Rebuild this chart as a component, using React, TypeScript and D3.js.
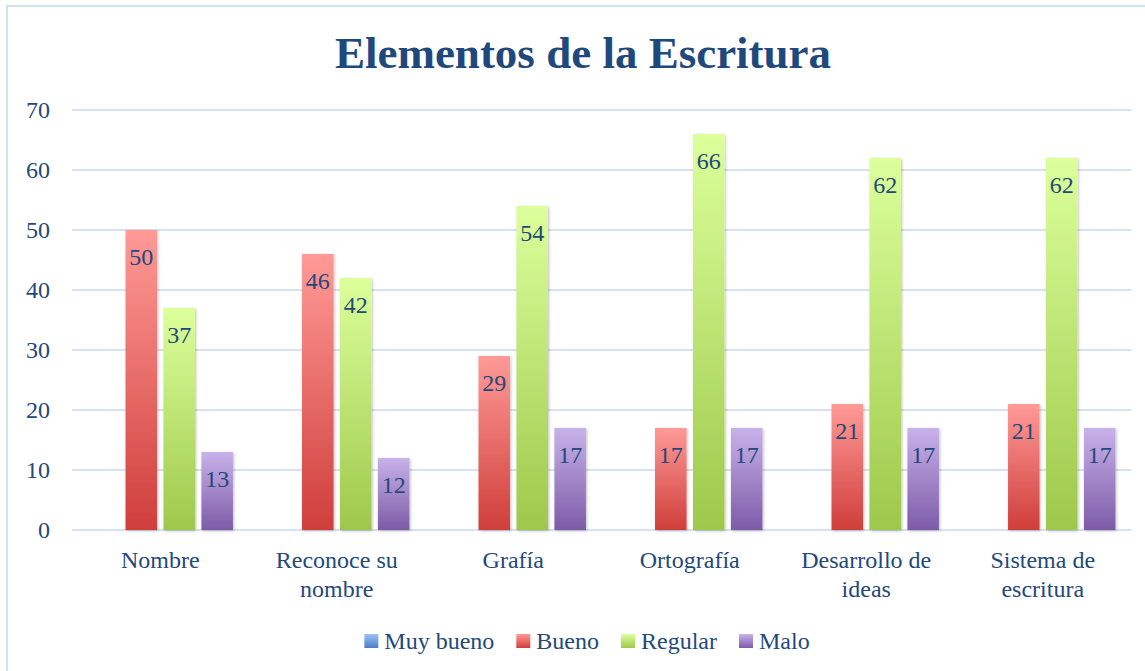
import * as d3 from "d3"
import { useEffect, useRef } from "react"

const categories = [
  "Nombre",
  "Reconoce su nombre",
  "Grafía",
  "Ortografía",
  "Desarrollo de ideas",
  "Sistema de escritura",
]
const seriesNames = ["Muy bueno", "Bueno", "Regular", "Malo"]
const muyBueno = [0, 0, 0, 0, 0, 0]
const bueno = [50, 46, 29, 17, 21, 21]
const regular = [37, 42, 54, 66, 62, 62]
const malo = [13, 12, 17, 17, 17, 17]
const yTicks = [0, 10, 20, 30, 40, 50, 60, 70]

// top / bottom colours of each series gradient
const gradients = [
  ["#9dc3f6", "#4a7ec6"],
  ["#ff9a97", "#cf3e3b"],
  ["#dcff9b", "#9ec84b"],
  ["#c8b2ea", "#7d5ba8"],
]

const TEXT = "#23497b"
const GRID = "#d6e2f2"
const FONT = "'Liberation Serif', 'DejaVu Serif', serif"

function wrapWords(s: string, max = 13) {
  const lines: string[] = []
  let cur = ""
  for (const w of s.split(" ")) {
    const next = cur ? cur + " " + w : w
    if (next.length > max && cur) {
      lines.push(cur)
      cur = w
    } else cur = next
  }
  if (cur) lines.push(cur)
  return lines
}

export default function App() {
  const ref = useRef<SVGSVGElement>(null)

  useEffect(() => {
    if (!ref.current) return
    const svg = d3.select(ref.current)
    svg.selectAll("*").remove()

    const W = 1145
    const H = 671
    const left = 72
    const right = 1131
    const top = 110
    const bottom = 530
    const values = [muyBueno, bueno, regular, malo]

    const defs = svg.append("defs")
    gradients.forEach(([a, b], i) => {
      const g = defs
        .append("linearGradient")
        .attr("id", `grad${i}`)
        .attr("x1", 0)
        .attr("y1", 0)
        .attr("x2", 0)
        .attr("y2", 1)
      g.append("stop").attr("offset", "0%").attr("stop-color", a)
      g.append("stop").attr("offset", "100%").attr("stop-color", b)
    })
    const f = defs
      .append("filter")
      .attr("id", "shadow")
      .attr("x", "-30%")
      .attr("y", "-10%")
      .attr("width", "160%")
      .attr("height", "120%")
    f.append("feDropShadow")
      .attr("dx", 1)
      .attr("dy", 1)
      .attr("stdDeviation", 1.6)
      .attr("flood-color", "#000")
      .attr("flood-opacity", 0.25)

    svg.append("rect").attr("width", W).attr("height", H).attr("fill", "#fff")
    // chart border (runs off right/bottom)
    svg
      .append("rect")
      .attr("x", 7)
      .attr("y", 6)
      .attr("width", W + 20)
      .attr("height", H + 20)
      .attr("fill", "none")
      .attr("stroke", "#d3e0f1")
      .attr("stroke-width", 2)

    svg
      .append("text")
      .attr("x", 583)
      .attr("y", 68)
      .attr("text-anchor", "middle")
      .attr("font-family", FONT)
      .attr("font-weight", "bold")
      .attr("font-size", 45)
      .attr("fill", "#1f497d")
      .text("Elementos de la Escritura")

    const x0 = d3.scaleBand<string>().domain(categories).range([left, right])
    const x1 = d3
      .scaleBand<string>()
      .domain(seriesNames)
      .range([0, x0.bandwidth()])
      .paddingInner(0.17)
      .paddingOuter(0.41)
    const y = d3.scaleLinear().domain([0, 70]).range([bottom, top])

    svg
      .append("g")
      .selectAll("line")
      .data(yTicks)
      .join("line")
      .attr("x1", left)
      .attr("x2", right)
      .attr("y1", (d) => y(d))
      .attr("y2", (d) => y(d))
      .attr("stroke", GRID)
      .attr("stroke-width", 2)

    svg
      .append("g")
      .selectAll("text")
      .data(yTicks)
      .join("text")
      .attr("x", 50)
      .attr("y", (d) => y(d))
      .attr("dy", "0.35em")
      .attr("text-anchor", "end")
      .attr("font-family", FONT)
      .attr("font-size", 24)
      .attr("fill", TEXT)
      .text((d) => d)

    seriesNames.forEach((s, si) => {
      const g = svg.append("g")
      const data = categories.map((c, ci) => ({ c, v: values[si][ci] }))
      g.selectAll("rect")
        .data(data)
        .join("rect")
        .attr("x", (d) => x0(d.c)! + x1(s)!)
        .attr("y", (d) => y(d.v))
        .attr("width", x1.bandwidth())
        .attr("height", (d) => bottom - y(d.v))
        .attr("fill", `url(#grad${si})`)
        .attr("filter", "url(#shadow)")
      g.selectAll("text")
        .data(data.filter((d) => d.v > 0))
        .join("text")
        .attr("x", (d) => x0(d.c)! + x1(s)! + x1.bandwidth() / 2)
        .attr("y", (d) => y(d.v) + 35)
        .attr("text-anchor", "middle")
        .attr("font-family", FONT)
        .attr("font-size", 24)
        .attr("fill", TEXT)
        .text((d) => d.v)
    })

    const cat = svg
      .append("g")
      .selectAll("text")
      .data(categories)
      .join("text")
      .attr("x", (d) => x0(d)! + x0.bandwidth() / 2)
      .attr("y", 568)
      .attr("text-anchor", "middle")
      .attr("font-family", FONT)
      .attr("font-size", 24)
      .attr("fill", TEXT)
    cat.each(function (d) {
      const t = d3.select(this)
      wrapWords(d).forEach((line, i) => {
        t.append("tspan")
          .attr("x", x0(d)! + x0.bandwidth() / 2)
          .attr("dy", i === 0 ? 0 : 29)
          .text(line)
      })
    })

    // legend
    const legend = svg.append("g")
    const items = seriesNames.map((s, i) => {
      const gi = legend.append("g")
      gi.append("rect")
        .attr("x", 0)
        .attr("y", -7)
        .attr("width", 14)
        .attr("height", 14)
        .attr("fill", `url(#grad${i})`)
      const t = gi
        .append("text")
        .attr("x", 20)
        .attr("dy", "0.35em")
        .attr("font-family", FONT)
        .attr("font-size", 24)
        .attr("fill", TEXT)
        .text(s)
      return { gi, w: 20 + (t.node() as SVGTextElement).getComputedTextLength() }
    })
    const gap = 22
    const total = d3.sum(items, (d) => d.w) + gap * (items.length - 1)
    let cx = 587 - total / 2
    items.forEach(({ gi, w }) => {
      gi.attr("transform", `translate(${cx},641)`)
      cx += w + gap
    })
  }, [])

  return (
    <div style={{ position: "fixed", left: 0, top: 0 }}>
      <svg ref={ref} width={1145} height={671} style={{ display: "block" }} />
    </div>
  )
}
